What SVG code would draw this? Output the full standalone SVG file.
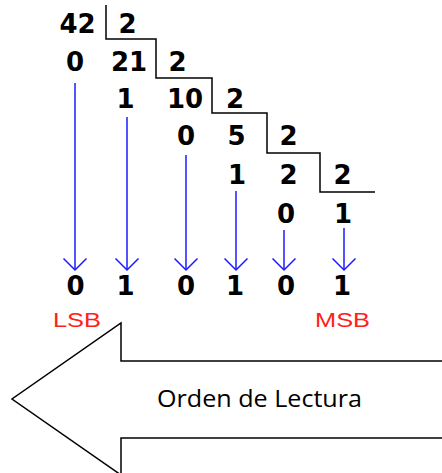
<svg xmlns="http://www.w3.org/2000/svg" width="442" height="473" viewBox="0 0 442 473">
<style>
.d{font-family:"DejaVu Sans","Liberation Sans",sans-serif;font-weight:bold;font-size:26px;fill:#000;text-anchor:middle}
.r{font-family:"Liberation Sans","DejaVu Sans",sans-serif;font-size:20px;fill:#ff2020}
.ln{fill:none;stroke:#000;stroke-width:1.5}
.ar{fill:none;stroke:#1a1aff;stroke-width:1.5}
</style>
<defs>
<marker id="ah" markerUnits="userSpaceOnUse" markerWidth="30" markerHeight="30" refX="11.5" refY="11.5" orient="auto" overflow="visible">
<path d="M0,0 L11.5,11.5 L0,23" fill="none" stroke="#1a1aff" stroke-width="1.5"/>
</marker>
</defs>
<rect width="442" height="473" fill="#fff"/>
<g id="division">
<path class="ln" d="M106,5 V39 H156 V78 H212 V113 H267 V153 H320 V192 H375"/>
<text class="d" x="77.5" y="33">42</text>
<text class="d" x="127.5" y="33">2</text>
<text class="d" x="75" y="71">0</text>
<text class="d" x="129" y="71">21</text>
<text class="d" x="177.5" y="71">2</text>
<text class="d" x="125.5" y="108">1</text>
<text class="d" x="185" y="108">10</text>
<text class="d" x="235" y="108">2</text>
<text class="d" x="186" y="145">0</text>
<text class="d" x="236.5" y="145">5</text>
<text class="d" x="288.5" y="145">2</text>
<text class="d" x="237" y="184">1</text>
<text class="d" x="288.5" y="184">2</text>
<text class="d" x="342.5" y="184">2</text>
<text class="d" x="286" y="223">0</text>
<text class="d" x="343" y="223">1</text>
</g>
<g id="connectors">
<line class="ar" x1="75" y1="83" x2="75" y2="270" marker-end="url(#ah)"/>
<line class="ar" x1="127" y1="117" x2="127" y2="270" marker-end="url(#ah)"/>
<line class="ar" x1="186" y1="155" x2="186" y2="270" marker-end="url(#ah)"/>
<line class="ar" x1="236" y1="191" x2="236" y2="270" marker-end="url(#ah)"/>
<line class="ar" x1="284" y1="230" x2="284" y2="270" marker-end="url(#ah)"/>
<line class="ar" x1="344" y1="228" x2="344" y2="270" marker-end="url(#ah)"/>
</g>
<g id="result">
<text class="d" x="75.5" y="295">0</text>
<text class="d" x="125.5" y="295">1</text>
<text class="d" x="186" y="295">0</text>
<text class="d" x="235" y="295">1</text>
<text class="d" x="286" y="295">0</text>
<text class="d" x="342" y="295">1</text>
</g>
<g id="lsb"><text class="r" x="53" y="327" textLength="48" lengthAdjust="spacingAndGlyphs">LSB</text></g>
<g id="msb"><text class="r" x="315" y="327" textLength="55" lengthAdjust="spacingAndGlyphs">MSB</text></g>
<g id="reading-arrow">
<polygon points="450,361 121,361 121,323 12,399 121,475 121,438 450,438" fill="#fff" stroke="#000" stroke-width="1.5"/>
<text x="157" y="407" font-family="'Open Sans','Liberation Sans',sans-serif" font-size="23" fill="#000" textLength="205" lengthAdjust="spacingAndGlyphs">Orden de Lectura</text>
</g>
</svg>
